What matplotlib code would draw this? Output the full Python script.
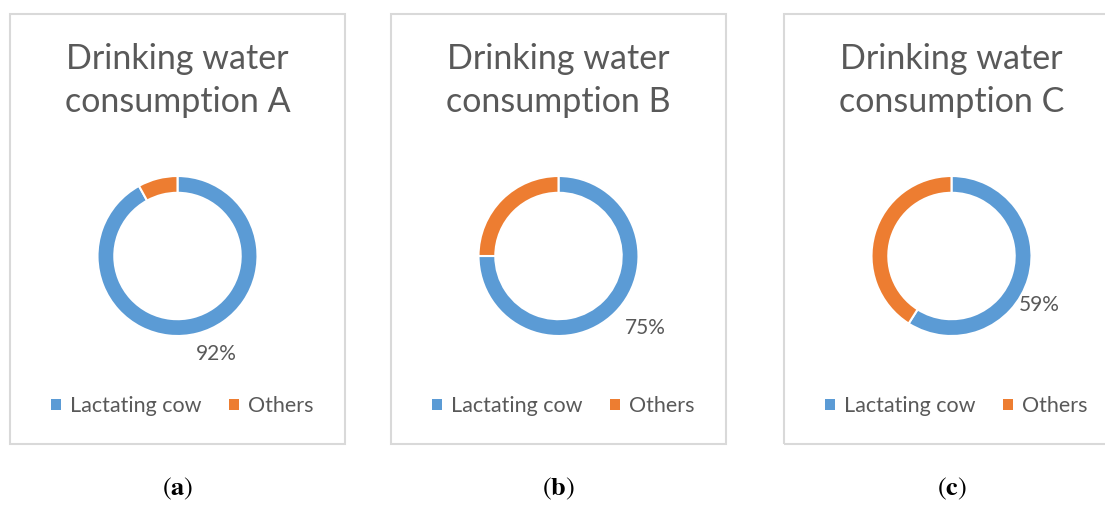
import numpy as np
import matplotlib.pyplot as plt
from matplotlib.patches import Rectangle, Patch

plt.rcParams['font.family'] = ['Lato', 'DejaVu Sans']

# données
titres = ["Drinking water\nconsumption A", "Drinking water\nconsumption B", "Drinking water\nconsumption C"]
categories = ["Lactating cow", "Others"]
part_vache = [92, 75, 59]
part_autres = [8, 25, 41]
lettres = ["a", "b", "c"]

couleurs = ["#5B9BD5", "#ED7D31"]
gris = "#595959"

W, H = 1105, 529
fig = plt.figure(figsize=(W / 100, H / 100), dpi=100)

# cadres (pixels) : gauche, haut, droite, bas
cadres = [(10, 14, 345, 444), (391, 14, 726, 444), (784, 14, 1119, 444)]
# décalage des étiquettes par rapport au bord de l'anneau (pixels)
decal_etiq = [(19, -21), (30, -15), (11, -27)]

def fx(x):
    return x / W

def fy(y):
    return 1 - y / H

for i, (g, h, d, b) in enumerate(cadres):
    fig.patches.append(Rectangle((fx(g), fy(b)), fx(d - g), (b - h) / H,
                                 transform=fig.transFigure, fill=False,
                                 edgecolor="#d9d9d9", linewidth=1.5))
    cx = (g + d) / 2
    cy = 256

    # titre
    fig.text(fx(cx), fy(80.5), titres[i], ha="center", va="center",
             fontsize=24.5, color=gris, linespacing=1.43)

    # anneau
    ax = fig.add_axes([fx(cx - 100), fy(cy + 100), 200 / W, 200 / H])
    vals = [part_vache[i], part_autres[i]]
    wedges, _ = ax.pie(vals, colors=couleurs, startangle=90, counterclock=False,
                       radius=1, wedgeprops=dict(width=0.21, edgecolor="white", linewidth=1.5))
    ax.set_xlim(-1.25, 1.25)
    ax.set_ylim(-1.25, 1.25)
    ax.set_aspect("equal")
    ax.axis("off")

    # étiquette du pourcentage (milieu de la part bleue)
    w0 = wedges[0]
    ang = np.deg2rad((w0.theta1 + w0.theta2) / 2)
    ax.annotate(f"{part_vache[i]}%", xy=(np.cos(ang), np.sin(ang)),
                xytext=decal_etiq[i], textcoords="offset pixels",
                ha="center", va="center", fontsize=15, color=gris,
                annotation_clip=False)

    # légende
    poignees = [Patch(facecolor=c, edgecolor="none") for c in couleurs]
    fig.legend(poignees, categories, loc="center", bbox_to_anchor=(fx(cx + 5), fy(406)),
               ncol=2, frameon=False, fontsize=15.5, labelcolor=gris,
               handlelength=0.45, handleheight=0.45, handletextpad=0.42,
               columnspacing=1.3)

    # lettre du sous-graphique
    fig.text(fx(cx), fy(489), r"$(\mathbf{" + lettres[i] + r"})$", ha="center", va="center",
             fontsize=19, color="black", math_fontfamily="stix")

plt.savefig("out.png", dpi=100)
